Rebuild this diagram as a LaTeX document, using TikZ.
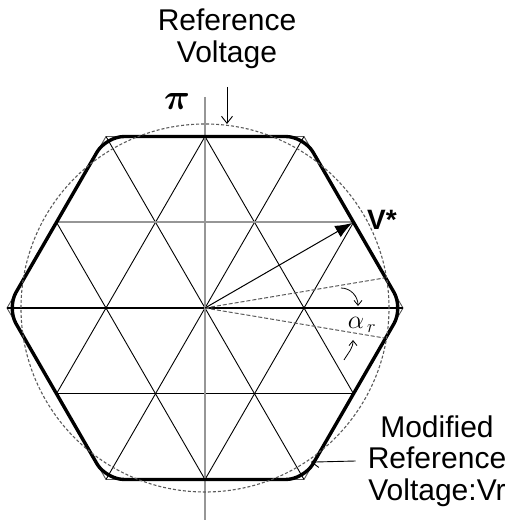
\RequirePackage{fix-cm}
\documentclass[tikz,border=0pt]{standalone}
\usepackage{amsmath}
\usepackage{amssymb}
\usepackage{fontspec}
\setmainfont{Liberation Sans}
\usetikzlibrary{arrows.meta, positioning}
\definecolor{axisgray}{RGB}{150,150,150}
\definecolor{hexgray}{RGB}{90,90,90}
\tikzset{
  gridline/.style={black, line width=0.9pt},
  axisline/.style={axisgray, line width=2.6pt},
  hexline/.style={hexgray, line width=0.9pt},
  modline/.style={black, line width=3.4pt, line join=round, rounded corners=18pt},
  limcircle/.style={hexgray, line width=1.1pt, dash pattern=on 3pt off 2pt},
  angleray/.style={hexgray, line width=1pt, dash pattern=on 4pt off 2pt},
  ptr/.style={-{Straight Barb[length=7pt,width=11pt]}, line width=0.9pt},
  smallptr/.style={-{Straight Barb[length=5pt,width=8pt]}, line width=0.8pt},
  lbl/.style={font=\fontsize{30}{31.5}\selectfont, align=center, inner sep=0pt},
}
\begin{document}
\begin{tikzpicture}[x=1pt,y=1pt]
\useasboundingbox (-205,-218) rectangle (308,308);
\coordinate (O) at (0,0);
\draw[hexline] (0:198) \foreach \a in {60,120,...,300}{ -- (\a:198)} -- cycle;
\foreach \a in {0,60,120}{
  \begin{scope}[rotate=\a]
    \draw[gridline] (-148.5,85.74) -- (148.5,85.74);
    \draw[gridline] (-148.5,-85.74) -- (148.5,-85.74);
    \draw[gridline] (-198,0) -- (198,0);
  \end{scope}
}
\draw[axisgray, line width=2.4pt] (-148.5,85.74) -- (148.5,85.74);
\draw[black, line width=2.6pt] (-198,0) -- (198,0);
\draw[axisline] (0,211) -- (0,-212);
\draw[modline] (0:198) \foreach \a in {60,120,...,300}{ -- (\a:198)} -- cycle;
\draw[limcircle] (O) circle[radius=184];
\draw[angleray] (O) -- (9.5:182);
\draw[angleray] (O) -- (-9.5:182);
\coordinate (vtip) at (30:170);
\draw[-{Latex[length=17pt,width=13pt]}, line width=1pt] (O) -- (vtip);
\node[font=\fontsize{28}{30}\selectfont\bfseries] (vstar) at (177,88) {V*};
\node[font=\fontsize{26}{28}\selectfont] (alpha) at (157,-17) {$\alpha_{\,r}$};
\draw[smallptr] (136,20) to[out=0,in=90] (153,2);
\draw[smallptr] (139,-52) to[out=60,in=-90] (148,-32);
\node[font=\fontsize{36}{38}\selectfont] (pilabel) at (-28,206) {$\boldsymbol{\pi}$};
\node[lbl] (reflabel) at (22,269) {Reference\\Voltage};
\coordinate (reftip) at (22,184);
\draw[ptr] ([yshift=-18pt]reflabel.south) -- (reftip);
\node[lbl] (modlabel) at (232,-153) {Modified\\Reference\\Voltage:Vr};
\coordinate (modtip) at (-55.5:187);
\draw[ptr] ([xshift=-12pt]modlabel.west) -- (modtip);
\end{tikzpicture}
\end{document}
